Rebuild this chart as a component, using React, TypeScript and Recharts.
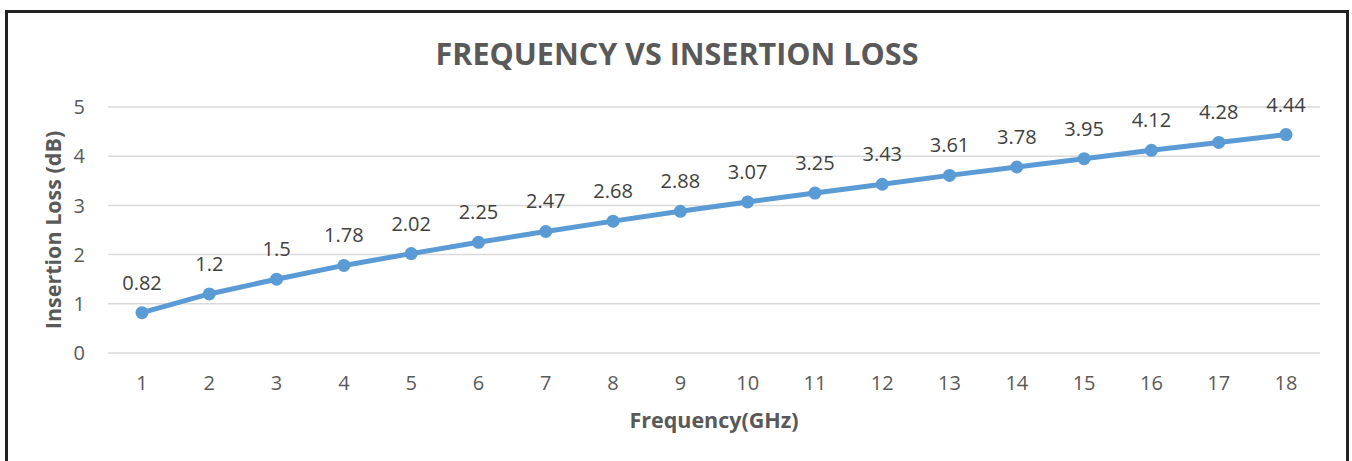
import { LineChart, Line, XAxis, YAxis, CartesianGrid, LabelList, Label } from 'recharts';

const frequencies = [1, 2, 3, 4, 5, 6, 7, 8, 9, 10, 11, 12, 13, 14, 15, 16, 17, 18];
const insertionLoss = [0.82, 1.2, 1.5, 1.78, 2.02, 2.25, 2.47, 2.68, 2.88, 3.07, 3.25, 3.43, 3.61, 3.78, 3.95, 4.12, 4.28, 4.44];
const yTicks = [0, 1, 2, 3, 4, 5];

const FONT = '"Open Sans", sans-serif';

export default function App() {
  const data = frequencies.map((f, i) => ({ freq: f, loss: insertionLoss[i] }));

  return (
    <div
      style={{
        position: 'absolute',
        left: 5,
        top: 10,
        width: 1344,
        height: 470,
        border: '3px solid #222',
        boxSizing: 'border-box',
        background: '#fff',
        fontFamily: FONT,
      }}
    >
      <div
        style={{
          position: 'absolute',
          left: 0,
          right: 0,
          top: 25,
          textAlign: 'center',
          fontSize: 30.5,
          lineHeight: 1,
          fontWeight: 700,
          color: '#595959',
        }}
      >
        FREQUENCY VS INSERTION LOSS
      </div>
      <LineChart width={1338} height={420} data={data} margin={{ top: 94, right: 26, left: 0, bottom: 0 }}>
        <CartesianGrid vertical={false} stroke="#D9D9D9" strokeWidth={1.5} />
        <XAxis
          dataKey="freq"
          axisLine={false}
          tickLine={false}
          tickSize={0}
          tickMargin={23}
          height={80}
          padding={{ left: 34, right: 34 }}
          tick={{ fill: '#595959', fontSize: 20, fontFamily: FONT }}
        >
          <Label
            value="Frequency(GHz)"
            position="insideBottom"
            offset={5}
            style={{ fill: '#595959', fontSize: 21.5, fontWeight: 700, fontFamily: FONT }}
          />
        </XAxis>
        <YAxis
          width={100}
          domain={[0, 5]}
          ticks={yTicks}
          axisLine={false}
          tickLine={false}
          tickSize={0}
          tickMargin={23}
          tick={{ fill: '#595959', fontSize: 20, fontFamily: FONT }}
        >
          <Label
            value="Insertion Loss (dB)"
            angle={-90}
            position="insideLeft"
            offset={45}
            style={{ textAnchor: 'middle', fill: '#595959', fontSize: 21.5, fontWeight: 700, fontFamily: FONT }}
          />
        </YAxis>
        <Line
          type="linear"
          dataKey="loss"
          stroke="#5B9BD5"
          strokeWidth={5}
          dot={{ r: 6.5, fill: '#5B9BD5', stroke: '#5B9BD5', strokeWidth: 0 }}
          isAnimationActive={false}
        >
          <LabelList
            dataKey="loss"
            position="top"
            offset={23}
            style={{ fill: '#404040', fontSize: 20, fontFamily: FONT }}
          />
        </Line>
      </LineChart>
    </div>
  );
}
